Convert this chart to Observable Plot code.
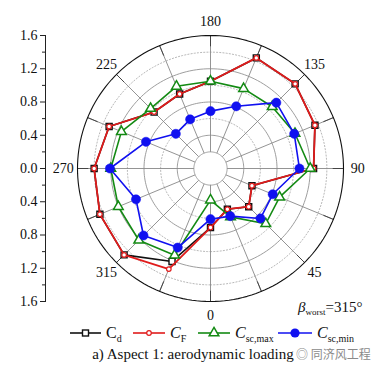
<!DOCTYPE html>
<html>
<head>
<meta charset="utf-8">
<script src="https://cdn.jsdelivr.net/npm/d3@7"></script>
<script src="https://cdn.jsdelivr.net/npm/@observablehq/plot@0.6"></script>
<style>
  body { margin: 0; background: #fff; }
  #wrap { position: relative; width: 378px; height: 368px; font-family: "Liberation Serif", serif; overflow: hidden; }
  #chart { position: absolute; left: 0; top: 0; }
  #legend { position: absolute; left: 0; top: 324px; }
  #caption { position: absolute; left: 0; top: 346px; width: 386px; text-align: center; font-size: 15px; color: #111; }
  #mark { position: absolute; left: 296px; top: 345px; font-family: "Noto Sans CJK SC", sans-serif; font-size: 12px; color: #8a8a8a; }
</style>
</head>
<body>
<div id="wrap">
  <div id="chart"></div>
  <div id="legend"></div>
  <div id="caption">a) Aspect 1: aerodynamic loading</div>
  <div id="mark">&#x25CE; 同济风工程</div>
</div>
<script>
// wind direction (deg)
const angles = [0, 22.5, 45, 67.5, 90, 112.5, 135, 157.5, 180, 202.5, 225, 247.5, 270, 292.5, 315, 337.5];
// series values
const cd    = [0.71, 0.53, 0.65, 0.54, 1.24, 1.36, 1.44, 1.44, 1.05, 0.97, 0.96, 1.32, 1.40, 1.44, 1.47, 1.21];
const cf    = [0.71, 0.53, 0.65, 0.54, 1.24, 1.36, 1.44, 1.44, 1.05, 0.97, 0.96, 1.32, 1.40, 1.44, 1.47, 1.31];
const scMax = [0.38, 0.63, 0.94, 0.90, 1.20, 1.10, 1.05, 1.04, 1.05, 1.07, 1.02, 1.16, 1.20, 1.20, 1.22, 1.13];
const scMin = [0.61, 0.62, 0.85, 0.81, 1.07, 1.09, 1.12, 0.81, 0.69, 0.64, 0.59, 0.84, 1.21, 0.97, 1.14, 1.03];
// radial axis ticks (signed: upper half / lower half)
const radialMajor = [-1.6, -1.2, -0.8, -0.4, 0, 0.4, 0.8, 1.2, 1.6];
const radialMinor = [-1.4, -1.0, -0.6, -0.2, 0.2, 0.6, 1.0, 1.4];
// angular labels
const angleLabels = [0, 45, 90, 135, 180, 225, 270, 315];
// grid rings
const ringsSolid = [0.2, 0.4, 0.8, 1.2];
const ringsDotted = [0.6, 1.0, 1.4];
const rMax = 1.6;
const rInner = 0.2;

const rad = d => d * Math.PI / 180;
const polar = (theta, r) => ({x: r * Math.sin(rad(theta)), y: -r * Math.cos(rad(theta))});

const series = (vals) => angles.map((a, i) => ({a, r: vals[i], ...polar(a, vals[i])}));
const sCd = series(cd), sCf = series(cf), sMax = series(scMax), sMin = series(scMin);

const ring = (radii) => radii.flatMap(r => d3.range(0, 360, 2).map(a => ({ring: r, ...polar(a, r)})));
const spokes = angles.map(a => {
  const p1 = polar(a, rInner), p2 = polar(a, rMax);
  return {x1: p1.x, y1: p1.y, x2: p2.x, y2: p2.y};
});
const spokeTicks = angles.map(a => {
  const p1 = polar(a, rMax - 0.13), p2 = polar(a, rMax);
  return {x1: p1.x, y1: p1.y, x2: p2.x, y2: p2.y};
});
const labels = angleLabels.map(a => ({text: String(a), ...polar(a, 1.77)}));

const RED = "#e01b1b", GREEN = "#138a13", BLUE = "#1010f0";

const chart = Plot.plot({
  width: 378,
  height: 324,
  marginLeft: 45,
  marginTop: 35,
  marginBottom: 23,
  marginRight: 0,
  style: {fontFamily: "Liberation Serif, serif", fontSize: "14px", color: "#111", background: "transparent"},
  x: {domain: [-1.6, 1.6], range: [77, 343], axis: null},
  y: {domain: [-1.6, 1.6], axis: null},
  marks: [
    // grid
    Plot.line(ring(ringsDotted), {x: "x", y: "y", z: "ring", curve: "linear-closed", stroke: "#b0b0b0", strokeWidth: 0.9, strokeDasharray: "1.2,2"}),
    Plot.line(ring(ringsSolid), {x: "x", y: "y", z: "ring", curve: "linear-closed", stroke: "#939393", strokeWidth: 0.9}),
    Plot.link(spokes, {x1: "x1", y1: "y1", x2: "x2", y2: "y2", stroke: "#888", strokeWidth: 0.9}),
    Plot.link(spokeTicks, {x1: "x1", y1: "y1", x2: "x2", y2: "y2", stroke: "#444", strokeWidth: 1}),
    Plot.line(ring([rMax]), {x: "x", y: "y", z: "ring", curve: "linear-closed", stroke: "#111", strokeWidth: 1.1}),
    Plot.text(labels, {x: "x", y: "y", text: "text", fontSize: 14, fill: "#111"}),
    // radial axis
    Plot.frame({anchor: "left", stroke: "#222"}),
    Plot.axisY({ticks: radialMajor, tickSize: 5, tickPadding: 3, tickFormat: d => Math.abs(d).toFixed(1), fontSize: 14, label: null, anchor: "left", stroke: "#222"}),
    Plot.axisY({ticks: radialMinor, tickSize: 3, tickFormat: () => "", label: null, anchor: "left", stroke: "#222"}),
    // series
    Plot.line(sCd, {x: "x", y: "y", curve: "linear-closed", stroke: "#111", strokeWidth: 1.6}),
    Plot.dot(sCd, {x: "x", y: "y", symbol: "square", r: 3.4, stroke: "#111", fill: "white", strokeWidth: 1.4}),
    Plot.line(sCf, {x: "x", y: "y", curve: "linear-closed", stroke: RED, strokeWidth: 1.8}),
    Plot.dot(sCf, {x: "x", y: "y", symbol: "circle", r: 2.3, stroke: RED, fill: "white", strokeWidth: 1.2}),
    Plot.line(sMax, {x: "x", y: "y", curve: "linear-closed", stroke: GREEN, strokeWidth: 1.6}),
    Plot.dot(sMax, {x: "x", y: "y", symbol: "triangle", r: 3.6, stroke: GREEN, fill: "white", strokeWidth: 1.5}),
    Plot.line(sMin, {x: "x", y: "y", curve: "linear-closed", stroke: BLUE, strokeWidth: 1.6}),
    Plot.dot(sMin, {x: "x", y: "y", symbol: "circle", r: 4.6, fill: BLUE, stroke: BLUE, strokeWidth: 0.5})
  ]
});
document.getElementById("chart").appendChild(chart);

// beta annotation
const svg = d3.select(chart);
const bt = svg.append("text").attr("x", 298).attr("y", 312).attr("font-size", 15).attr("fill", "#111")
  .attr("text-anchor", "start").attr("font-family", "Liberation Serif, serif");
bt.append("tspan").attr("font-style", "italic").text("β");
bt.append("tspan").attr("font-size", 9).attr("dy", 3).text("worst");
bt.append("tspan").attr("dy", -3).text("=315°");

// legend
const legendItems = [
  {main: "C", sub: "d", italic: false, color: "#111", symbol: "square", x0: 70, len: 31},
  {main: "C", sub: "F", italic: true, color: RED, symbol: "circle", x0: 133, len: 32},
  {main: "C", sub: "sc,max", italic: true, color: GREEN, symbol: "triangle", x0: 198, len: 32},
  {main: "C", sub: "sc,min", italic: true, color: BLUE, symbol: "dot", x0: 278, len: 34}
];
const lg = d3.select("#legend").append("svg").attr("width", 378).attr("height", 22);
const cy = 9;
for (const it of legendItems) {
  lg.append("line").attr("x1", it.x0).attr("x2", it.x0 + it.len).attr("y1", cy).attr("y2", cy)
    .attr("stroke", it.color).attr("stroke-width", 1.6);
  const mx = it.x0 + it.len / 2;
  if (it.symbol === "square") {
    lg.append("rect").attr("x", mx - 3).attr("y", cy - 3).attr("width", 6).attr("height", 6)
      .attr("fill", "white").attr("stroke", it.color).attr("stroke-width", 1.4);
  } else if (it.symbol === "circle") {
    lg.append("circle").attr("cx", mx).attr("cy", cy).attr("r", 2.3).attr("fill", "white").attr("stroke", it.color).attr("stroke-width", 1.2);
  } else if (it.symbol === "triangle") {
    lg.append("path").attr("d", d3.symbol(d3.symbolTriangle, Math.PI * 3.6 * 3.6)()).attr("transform", `translate(${mx},${cy})`)
      .attr("fill", "white").attr("stroke", it.color).attr("stroke-width", 1.5);
  } else {
    lg.append("circle").attr("cx", mx).attr("cy", cy).attr("r", 4.6).attr("fill", it.color);
  }
  const t = lg.append("text").attr("x", it.x0 + it.len + 5).attr("y", cy + 5).attr("font-size", 16)
    .attr("font-family", "Liberation Serif, serif").attr("fill", "#111");
  t.append("tspan").attr("font-style", it.italic ? "italic" : "normal").text(it.main);
  t.append("tspan").attr("font-size", 10).attr("dy", 4).text(it.sub);
}
</script>
</body>
</html>
